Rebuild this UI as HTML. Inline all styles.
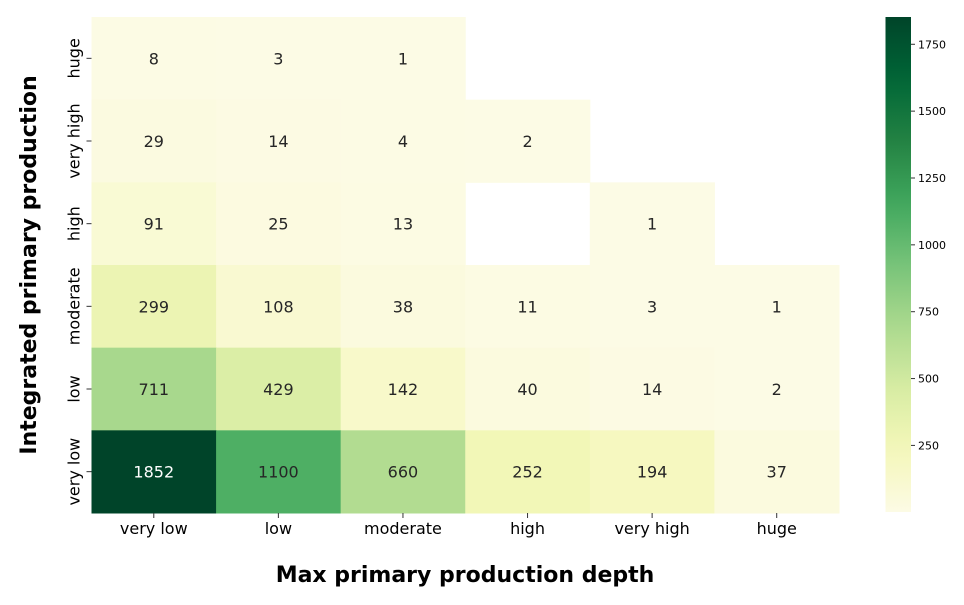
<!DOCTYPE html>
<html><head><meta charset="utf-8"><style>
html,body{margin:0;padding:0;background:#fff}
svg{display:block;font-family:"DejaVu Sans","Liberation Sans",sans-serif}
</style></head><body>
<svg id="chart" width="964" height="605" viewBox="0 0 964 605" xmlns="http://www.w3.org/2000/svg">
<defs><linearGradient id="cbg" x1="0" y1="1" x2="0" y2="0"></linearGradient></defs>
<g id="cells"></g>
<g id="xt"></g>
<g id="yt"></g>
<g id="cb"></g>
<text x="465" y="582" text-anchor="middle" font-size="22" font-weight="bold">Max primary production depth</text>
<text transform="translate(36,265) rotate(-90)" text-anchor="middle" font-size="22" font-weight="bold">Integrated primary production</text>
</svg>
<script>
const xCats=["very low","low","moderate","high","very high","huge"];
const yCats=["huge","very high","high","moderate","low","very low"];
const row_huge=[8,3,1,null,null,null];
const row_veryhigh=[29,14,4,2,null,null];
const row_high=[91,25,13,null,1,null];
const row_moderate=[299,108,38,11,3,1];
const row_low=[711,429,142,40,14,2];
const row_verylow=[1852,1100,660,252,194,37];
const cbTicks=[250,500,750,1000,1250,1500,1750];
const rows=[row_huge,row_veryhigh,row_high,row_moderate,row_low,row_verylow];
const NS="http://www.w3.org/2000/svg";
const L=91.5,R=839,T=17,B=513;
const cw=(R-L)/xCats.length,rh=(B-T)/yCats.length;
const all=rows.flat().filter(v=>v!=null);
const vmin=Math.min(...all),vmax=Math.max(...all);
const stops=["#ffffe5","#f7fcb9","#d9f0a3","#addd8e","#78c679","#41ab5d","#238443","#006837","#004529"];
function hex(h){return [1,3,5].map(i=>parseInt(h.substr(i,2),16));}
function cmap(v){let t=(v-vmin)/(vmax-vmin);t=Math.max(0,Math.min(1,t));const p=t*(stops.length-1);const i=Math.min(Math.floor(p),stops.length-2);const f=p-i;const a=hex(stops[i]),b=hex(stops[i+1]);const c=a.map((c,k)=>c+(b[k]-c)*f);return [Math.round(c[0]*0.99),Math.round(c[1]*0.983),Math.round(c[2])];}
function el(tag,attrs,parent){const e=document.createElementNS(NS,tag);for(const k in attrs)e.setAttribute(k,attrs[k]);parent.appendChild(e);return e;}
const cells=document.getElementById('cells');
rows.forEach((r,ri)=>r.forEach((v,ci)=>{if(v==null)return;const c=cmap(v);
const rect=el('rect',{x:L+ci*cw,y:T+ri*rh,width:cw+0.5,height:rh+0.5,fill:`rgb(${c})`},cells);


const lum=(0.2126*c[0]+0.7152*c[1]+0.0722*c[2])/255;
const t=el('text',{x:L+(ci+0.5)*cw,y:T+(ri+0.5)*rh+6,'text-anchor':'middle','font-size':16,fill:lum<0.45?'#fff':'#262626'},cells);
t.textContent=v;

}));
const xt=document.getElementById('xt');
xCats.forEach((c,i)=>{const x=L+(i+0.5)*cw;el('line',{x1:x,x2:x,y1:B,y2:B+5,stroke:'#333','stroke-width':1},xt);
const t=el('text',{x:x,y:B+21,'text-anchor':'middle','font-size':16},xt);t.textContent=c;

});
const yt=document.getElementById('yt');
yCats.forEach((c,i)=>{const y=T+(i+0.5)*rh;el('line',{x1:L-5,x2:L,y1:y,y2:y,stroke:'#333','stroke-width':1},yt);
const t=el('text',{transform:`translate(${L-12},${y}) rotate(-90)`,'text-anchor':'middle','font-size':16},yt);t.textContent=c;

});
const g=document.getElementById('cbg');
for(let k=0;k<=20;k++){const v=vmin+(vmax-vmin)*k/20;const c=cmap(v);el('stop',{offset:(k/20),'stop-color':`rgb(${c})`},g);}
const cb=document.getElementById('cb');
const CL=885.5,CR=911,CT=17,CB=512;
const bar=el('rect',{x:CL,y:CT,width:CR-CL,height:CB-CT,fill:'url(#cbg)'},cb);


const cy=v=>CB-(v-vmin)/(vmax-vmin)*(CB-CT);
cbTicks.forEach(v=>{const y=cy(v);el('line',{x1:CR,x2:CR+4,y1:y,y2:y,stroke:'#333'},cb);
const t=el('text',{x:CR+7,y:y+4,'font-size':11},cb);t.textContent=v;

});
</script>
</body></html>
